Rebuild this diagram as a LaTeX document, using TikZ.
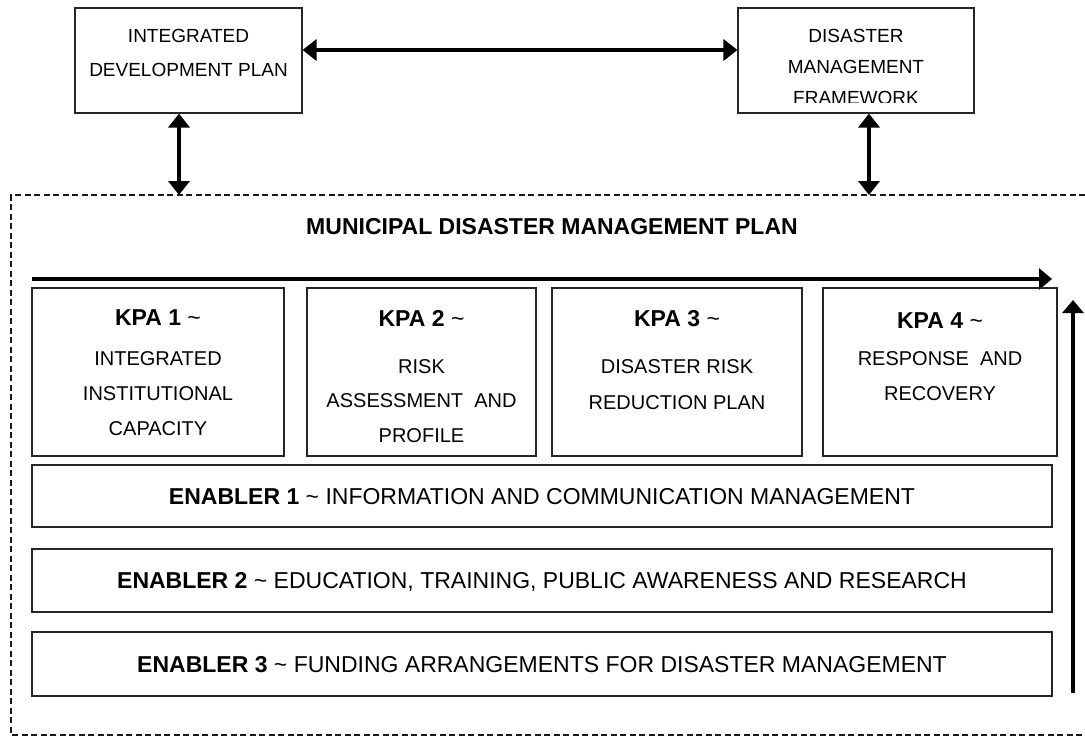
\documentclass[tikz,border=0pt]{standalone}
\usepackage{fontspec}
\setmainfont{Liberation Sans}
\usetikzlibrary{arrows.meta}
\begin{document}
\begin{tikzpicture}[x=1pt,y=-1pt,
  box/.style={draw=black!85, line width=1.1pt, rectangle, inner sep=0pt},
  toptxt/.style={inner sep=0pt, anchor=north, align=center},
  kpahead/.style={inner sep=0pt, anchor=north, font=\fontsize{23}{27}\selectfont\bfseries},
  kpabody/.style={inner sep=0pt, anchor=north, align=center},
  enabler/.style={box, minimum width=1020pt, text height=16.5pt, text depth=0pt,
    font=\fontsize{23}{27}\selectfont},
  kpabox/.style={box, minimum height=168pt},
  link/.style={line width=3.5pt, {Triangle[length=14pt,width=21pt]}-{Triangle[length=14pt,width=21pt]}},
  flow/.style={line width=4pt, -{Triangle[length=13pt,width=21pt]}},
  frame/.style={line width=1.2pt, draw=black!90, dash pattern=on 6pt off 3.5pt}
]
\useasboundingbox (0,0) rectangle (1085,737);

% planning documents above the plan
\node[box, minimum width=227pt, minimum height=105pt] (idp) at (188.5,60.5) {};
\node[toptxt, font=\fontsize{19}{34}\selectfont] (idpt) at (188.5,29.2)
  {INTEGRATED\\DEVELOPMENT PLAN};
\node[box, minimum width=236pt, minimum height=105pt] (dmf) at (856,60.5) {};
\begin{scope}
  \clip (738,8) rectangle (974,102);
  \node[toptxt, font=\fontsize{19}{31}\selectfont] (dmft) at (856,29.2)
    {DISASTER\\MANAGEMENT\\FRAMEWORK};
\end{scope}

% dashed frame of the municipal plan
\coordinate (frTR) at (1085,195);
\coordinate (frTL) at (11,195);
\coordinate (frBL) at (11,735);
\coordinate (frBR) at (1085,735);
\draw[frame] (frTR) -- (frTL) -- (frBL) -- (frBR);

% links between the documents
\coordinate (linky) at (0,50);
\draw[link] (idp.east |- linky) -- (dmf.west |- linky);
\coordinate (idpdown) at (179,195);
\coordinate (dmfdown) at (869,195);
\draw[link] (idp.south -| idpdown) -- (idpdown);
\draw[link] (dmf.south -| dmfdown) -- (dmfdown);

% title
\node[inner sep=0pt, font=\fontsize{23}{27}\selectfont\bfseries] (title) at (552,227)
  {MUNICIPAL DISASTER MANAGEMENT PLAN};

% flow arrows
\coordinate (flowS) at (32,279);
\coordinate (flowE) at (1052,279);
\draw[flow] (flowS) -- (flowE);
\coordinate (upS) at (1073,693);
\coordinate (upE) at (1073,300);
\draw[flow, line width=3.5pt] (upS) -- (upE);

% key performance areas
\node[kpabox, minimum width=252pt] (kpa1) at (158,372) {};
\node[kpabox, minimum width=229pt] (kpa2) at (421.5,372) {};
\node[kpabox, minimum width=250pt] (kpa3) at (677,372) {};
\node[kpabox, minimum width=234pt] (kpa4) at (940,372) {};

\node[kpahead] (kpa1h) at (158,309.5) {KPA 1 \textmd{\textasciitilde}};
\node[kpahead] (kpa2h) at (421.5,310) {KPA 2 \textmd{\textasciitilde}};
\node[kpahead] (kpa3h) at (677,310) {KPA 3 \textmd{\textasciitilde}};
\node[kpahead] (kpa4h) at (940,312) {KPA 4 \textmd{\textasciitilde}};

\node[kpabody, font=\fontsize{20}{35}\selectfont] (kpa1b) at (158,351)
  {INTEGRATED\\INSTITUTIONAL\\CAPACITY};
\node[kpabody, font=\fontsize{20}{34.5}\selectfont] (kpa2b) at (421.5,359)
  {RISK\\ASSESSMENT\ \ AND\\PROFILE};
\node[kpabody, font=\fontsize{20}{36}\selectfont] (kpa3b) at (677,359)
  {DISASTER RISK\\REDUCTION PLAN};
\node[kpabody, font=\fontsize{20}{35}\selectfont] (kpa4b) at (940,351)
  {RESPONSE\ \ AND\\RECOVERY};

% enablers
\node[enabler, minimum height=62pt] (en1) at (542,496)
  {\textbf{ENABLER 1} \textasciitilde\ INFORMATION AND COMMUNICATION MANAGEMENT};
\node[enabler, minimum height=63pt] (en2) at (542,580.5)
  {\textbf{ENABLER 2} \textasciitilde\ EDUCATION, TRAINING, PUBLIC AWARENESS AND RESEARCH};
\node[enabler, minimum height=64pt] (en3) at (542,664)
  {\textbf{ENABLER 3} \textasciitilde\ FUNDING ARRANGEMENTS FOR DISASTER MANAGEMENT};
\end{tikzpicture}
\end{document}
